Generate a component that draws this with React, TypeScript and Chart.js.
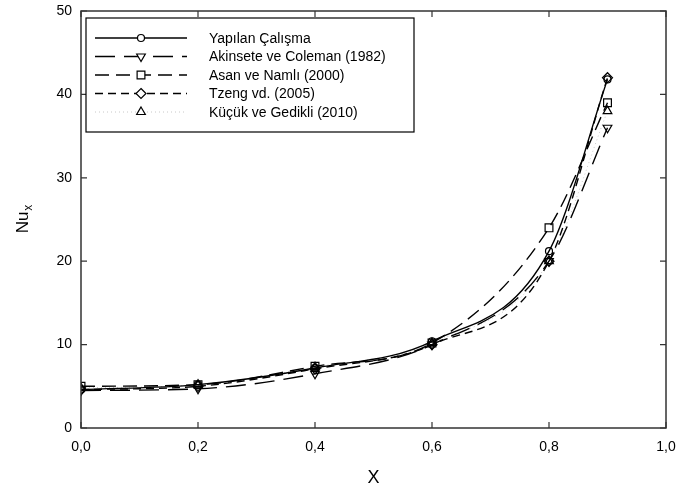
import React, { useEffect, useRef } from 'react';
import { Chart, registerables } from 'chart.js';

Chart.register(...registerables);

const xValues = [0, 0.2, 0.4, 0.6, 0.8, 0.9];
const yapilan = [4.6, 5.2, 7.2, 10.4, 21.2, 41.8];
const akinsete = [4.5, 4.7, 6.5, 10.0, 20.0, 36.0];
const asan = [5.0, 5.2, 7.4, 10.2, 24.0, 39.0];
const tzeng = [4.6, 5.0, 7.1, 10.0, 20.0, 42.0];
const kucuk = [4.8, 5.2, 7.3, 10.2, 20.0, 38.0];
const seriesNames = [
  'Yapılan Çalışma',
  'Akinsete ve Coleman (1982)',
  'Asan ve Namlı (2000)',
  'Tzeng vd. (2005)',
  'Küçük ve Gedikli (2010)',
];
const xTicks = [0, 0.2, 0.4, 0.6, 0.8, 1.0];
const yTicks = [0, 10, 20, 30, 40, 50];

const FONT = '"Liberation Sans", Arial, sans-serif';

type Style = {
  dash: number[];
  color: string;
  width: number;
  point: string;
  radius: number;
  rotation: number;
};

const styles: Style[] = [
  { dash: [], color: '#000', width: 1.4, point: 'circle', radius: 3.5, rotation: 0 },
  { dash: [20, 9], color: '#000', width: 1.4, point: 'triangle', radius: 5, rotation: 180 },
  { dash: [14, 7], color: '#000', width: 1.4, point: 'rect', radius: 5.5, rotation: 0 },
  { dash: [8, 5], color: '#000', width: 1.4, point: 'rectRot', radius: 5, rotation: 0 },
  { dash: [1, 3], color: '#c8c8c8', width: 1, point: 'triangle', radius: 5, rotation: 0 },
];

function drawMarker(ctx: CanvasRenderingContext2D, s: Style, x: number, y: number) {
  ctx.save();
  ctx.setLineDash([]);
  ctx.strokeStyle = '#000';
  ctx.fillStyle = '#fff';
  ctx.lineWidth = 1.2;
  ctx.translate(x, y);
  ctx.rotate((s.rotation * Math.PI) / 180);
  ctx.beginPath();
  const r = s.radius;
  if (s.point === 'circle') {
    ctx.arc(0, 0, r, 0, Math.PI * 2);
  } else if (s.point === 'triangle') {
    ctx.moveTo(0, -r);
    ctx.lineTo(r * Math.sin(Math.PI / 3), r * 0.5);
    ctx.lineTo(-r * Math.sin(Math.PI / 3), r * 0.5);
    ctx.closePath();
  } else if (s.point === 'rect') {
    const h = r * Math.SQRT1_2;
    ctx.rect(-h, -h, 2 * h, 2 * h);
  } else if (s.point === 'rectRot') {
    ctx.moveTo(0, -r);
    ctx.lineTo(r, 0);
    ctx.lineTo(0, r);
    ctx.lineTo(-r, 0);
    ctx.closePath();
  }
  ctx.fill();
  ctx.stroke();
  ctx.restore();
}

const framePlugin = {
  id: 'framePlugin',
  afterDraw(chart: any) {
    const { ctx, chartArea } = chart;
    const { left, right, top, bottom } = chartArea;
    const xs = chart.scales.x;
    const ys = chart.scales.y;
    ctx.save();
    // frame
    ctx.strokeStyle = '#333';
    ctx.lineWidth = 1.5;
    ctx.setLineDash([]);
    ctx.strokeRect(left, top, right - left, bottom - top);
    // inward ticks
    const tl = 6;
    ctx.lineWidth = 1.2;
    ctx.beginPath();
    xTicks.forEach((v) => {
      const px = xs.getPixelForValue(v);
      ctx.moveTo(px, bottom);
      ctx.lineTo(px, bottom - tl);
      ctx.moveTo(px, top);
      ctx.lineTo(px, top + tl);
    });
    yTicks.forEach((v) => {
      const py = ys.getPixelForValue(v);
      ctx.moveTo(left, py);
      ctx.lineTo(left + tl, py);
      ctx.moveTo(right, py);
      ctx.lineTo(right - tl, py);
    });
    ctx.stroke();

    // legend
    const bx = left + 5;
    const by = top + 7;
    const bw = 328;
    const bh = 114;
    ctx.fillStyle = '#fff';
    ctx.fillRect(bx, by, bw, bh);
    ctx.strokeStyle = '#000';
    ctx.lineWidth = 1.2;
    ctx.strokeRect(bx, by, bw, bh);
    ctx.font = `14px ${FONT}`;
    ctx.textBaseline = 'middle';
    ctx.textAlign = 'left';
    seriesNames.forEach((name, i) => {
      const s = styles[i];
      const y = by + 20 + i * 18.5;
      const x0 = bx + 9;
      const x1 = bx + 101;
      ctx.save();
      ctx.strokeStyle = s.color;
      ctx.lineWidth = s.width;
      ctx.setLineDash(s.dash);
      ctx.beginPath();
      ctx.moveTo(x0, y);
      ctx.lineTo(x1, y);
      ctx.stroke();
      ctx.restore();
      drawMarker(ctx, s, (x0 + x1) / 2, y);
      ctx.fillStyle = '#000';
      ctx.fillText(name, bx + 123, y + 1);
    });

    // axis titles
    ctx.fillStyle = '#000';
    ctx.textAlign = 'center';
    ctx.textBaseline = 'middle';
    ctx.font = `18px ${FONT}`;
    ctx.fillText('X', (left + right) / 2, bottom + 50);

    ctx.save();
    ctx.translate(22, (top + bottom) / 2);
    ctx.rotate(-Math.PI / 2);
    ctx.font = `17px ${FONT}`;
    const wNu = ctx.measureText('Nu').width;
    ctx.font = `12px ${FONT}`;
    const wx = ctx.measureText('x').width;
    const start = -(wNu + wx) / 2;
    ctx.textAlign = 'left';
    ctx.textBaseline = 'alphabetic';
    ctx.font = `17px ${FONT}`;
    ctx.fillText('Nu', start, 6);
    ctx.font = `12px ${FONT}`;
    ctx.fillText('x', start + wNu + 1, 10);
    ctx.restore();

    ctx.restore();
  },
};

export default function App() {
  const ref = useRef<HTMLCanvasElement>(null);
  useEffect(() => {
    if (!ref.current) return;
    const series = [yapilan, akinsete, asan, tzeng, kucuk];
    const datasets = series.map((arr, i) => {
      const s = styles[i];
      return {
        label: seriesNames[i],
        data: xValues.map((x, j) => ({ x, y: arr[j] })),
        borderColor: s.color,
        borderWidth: s.width,
        borderDash: s.dash,
        cubicInterpolationMode: 'monotone' as const,
        pointStyle: s.point,
        pointRadius: s.radius,
        pointRotation: s.rotation,
        pointBorderColor: '#000',
        pointBackgroundColor: 'rgba(0,0,0,0)',
        pointBorderWidth: 1.2,
        fill: false,
      };
    });
    const chart = new Chart(ref.current, {
      type: 'line',
      data: { datasets: datasets as any },
      options: {
        animation: false,
        responsive: false,
        devicePixelRatio: 1,
        layout: { padding: { top: 11, right: 13, left: 0, bottom: 0 } },
        plugins: { legend: { display: false }, tooltip: { enabled: false } },
        scales: {
          x: {
            type: 'linear',
            min: 0,
            max: 1,
            afterBuildTicks: (scale: any) => {
              scale.ticks = xTicks.map((v) => ({ value: v }));
            },
            afterFit: (scale: any) => {
              scale.height = 67;
              scale.paddingLeft = 0;
              scale.paddingRight = 0;
            },
            grid: { display: false, drawTicks: false },
            border: { display: false },
            ticks: {
              padding: 11,
              color: '#000',
              font: { family: FONT, size: 14 },
              callback: (v: any) => Number(v).toFixed(1).replace('.', ','),
              maxRotation: 0,
            },
          },
          y: {
            type: 'linear',
            min: 0,
            max: 50,
            afterBuildTicks: (scale: any) => {
              scale.ticks = yTicks.map((v) => ({ value: v }));
            },
            afterFit: (scale: any) => {
              scale.width = 81;
              scale.paddingTop = 0;
              scale.paddingBottom = 0;
            },
            grid: { display: false, drawTicks: false },
            border: { display: false },
            ticks: {
              padding: 9,
              color: '#000',
              font: { family: FONT, size: 14 },
              callback: (v: any) => String(v),
            },
          },
        },
      },
      plugins: [framePlugin],
    });
    return () => chart.destroy();
  }, []);
  return (
    <div style={{ position: 'fixed', left: 0, top: 0, width: 679, height: 495, background: '#fff' }}>
      <canvas ref={ref} width={679} height={495} style={{ width: 679, height: 495 }} />
    </div>
  );
}
